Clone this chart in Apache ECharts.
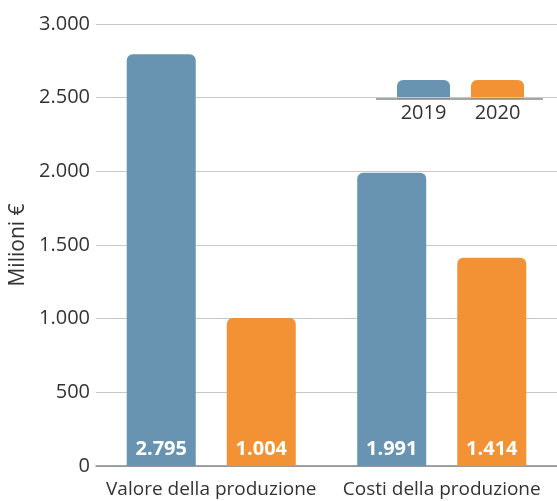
<!DOCTYPE html>
<html>
<head>
<meta charset="utf-8">
<script src="https://cdn.jsdelivr.net/npm/echarts@6/dist/echarts.min.js"></script>
<style>html,body{margin:0;padding:0;background:#fff}#c{width:557px;height:501px}</style>
</head>
<body>
<div id="c"></div>
<script>
const categories = ['Valore della produzione', 'Costi della produzione'];
const years = ['2019', '2020'];
const values2019 = [2795, 1991];
const values2020 = [1004, 1414];
const yTicks = [0, 500, 1000, 1500, 2000, 2500, 3000];

const colors = ['#6894b2', '#f39234'];
const font = '"Open Sans", sans-serif';
const fmt = v => String(v).replace(/\B(?=(\d{3})+(?!\d))/g, '.');

const chart = echarts.init(document.getElementById('c'));

function barSeries(name, data, color) {
  return {
    name, type: 'bar', data,
    barWidth: 69, barGap: '45%',
    itemStyle: { color, borderRadius: [6, 6, 0, 0] },
    label: {
      show: true, position: 'insideBottom', distance: 7,
      formatter: p => fmt(p.value),
      color: '#fff', fontWeight: 'bold', fontSize: 20, fontFamily: font
    }
  };
}

chart.setOption({
  animation: false,
  grid: { left: 96, right: 0, top: 24, bottom: 35, outerBoundsMode: 'none' },
  xAxis: {
    type: 'category', data: categories,
    axisLine: { lineStyle: { color: '#888', width: 1.5 } },
    axisTick: { show: false },
    axisLabel: { color: '#333', fontSize: 19, fontFamily: font, margin: 14, interval: 0, hideOverlap: false }
  },
  yAxis: {
    type: 'value', min: yTicks[0], max: yTicks[yTicks.length - 1], interval: 500,
    name: 'Milioni €', nameLocation: 'middle', nameGap: 64, nameRotate: 90,
    nameTextStyle: { color: '#333', fontSize: 21, fontFamily: font },
    axisLine: { show: false }, axisTick: { show: false },
    axisLabel: { color: '#333', fontSize: 20, fontFamily: font, margin: 6, formatter: v => fmt(v) },
    splitLine: { lineStyle: { color: '#c8c8c8', width: 1 } }
  },
  series: [
    barSeries(years[0], values2019, colors[0]),
    barSeries(years[1], values2020, colors[1])
  ],
  graphic: [
    // legend: two small swatches standing on a baseline, year below each
    { type: 'rect', shape: { x: 397, y: 80, width: 53, height: 19, r: [6, 6, 0, 0] }, style: { fill: colors[0] } },
    { type: 'rect', shape: { x: 471, y: 80, width: 53, height: 19, r: [6, 6, 0, 0] }, style: { fill: colors[1] } },
    { type: 'line', shape: { x1: 376, y1: 99, x2: 543, y2: 99 }, style: { stroke: '#888', lineWidth: 1.5 } },
    { type: 'text', x: 423.5, y: 103, style: { text: years[0], fill: '#333', fontSize: 20, fontFamily: font, align: 'center', verticalAlign: 'top' } },
    { type: 'text', x: 497.5, y: 103, style: { text: years[1], fill: '#333', fontSize: 20, fontFamily: font, align: 'center', verticalAlign: 'top' } }
  ]
});
</script>
</body>
</html>
